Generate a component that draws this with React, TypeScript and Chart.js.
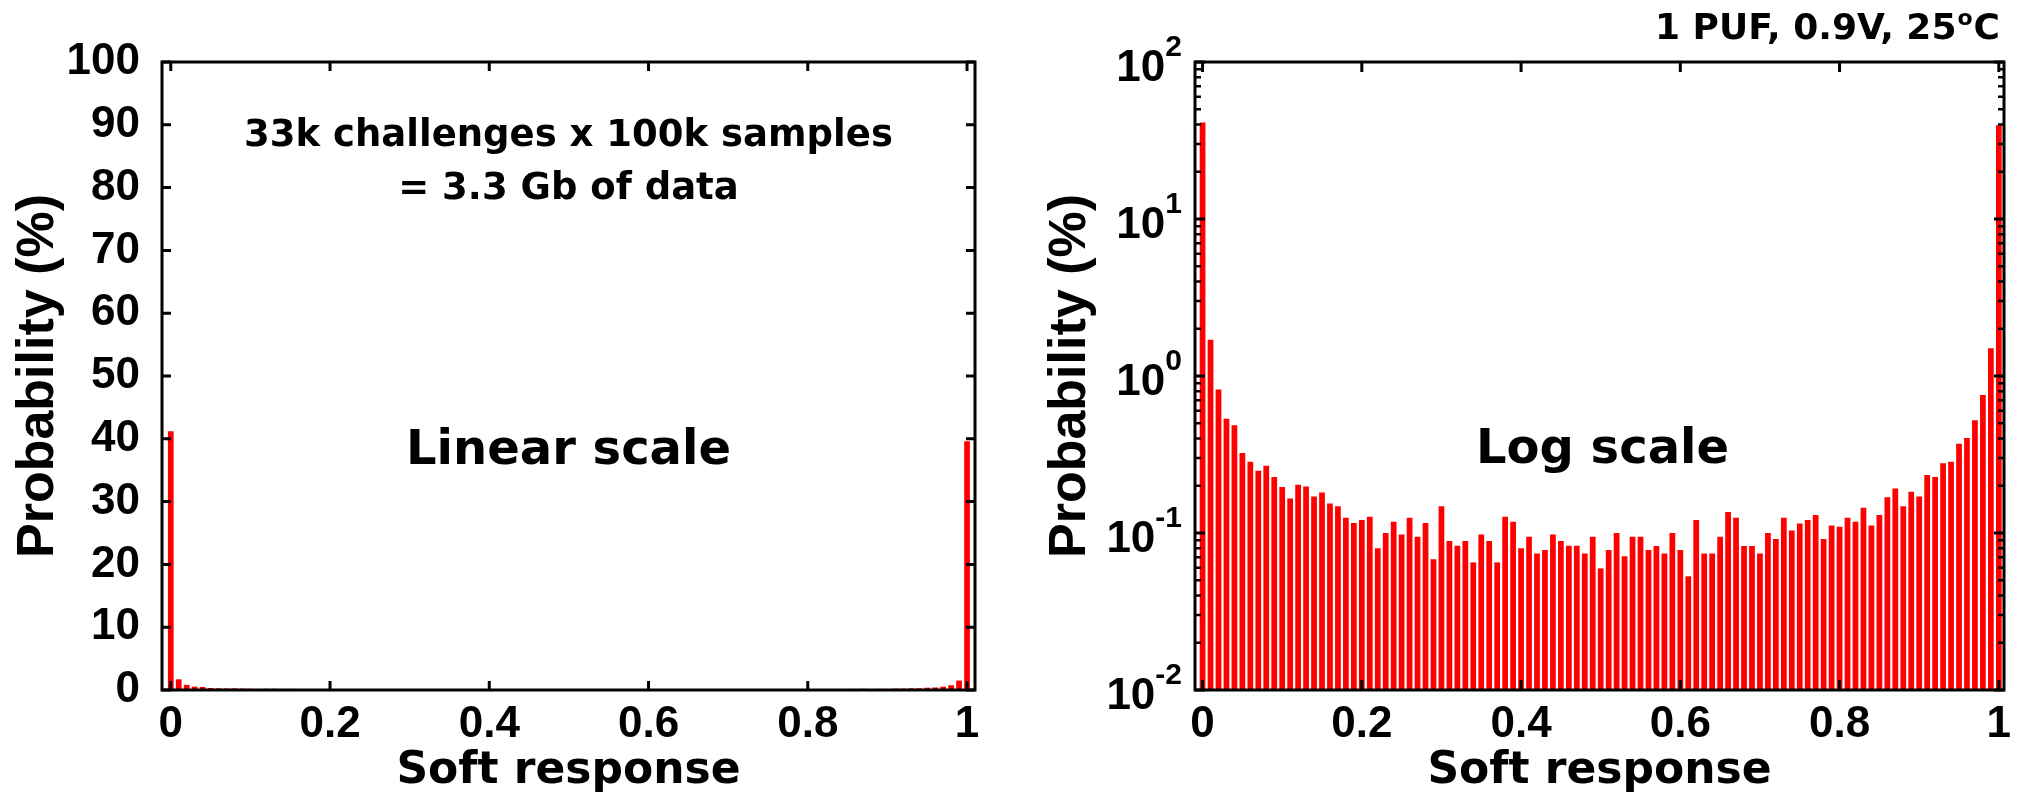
import React, { useEffect, useRef } from 'react';
import { Chart, registerables } from 'chart.js';

Chart.register(...registerables);

// ---------------- data ----------------
const binCenters = [
  0, 0.01, 0.02, 0.03, 0.04, 0.05, 0.06, 0.07, 0.08, 0.09,
  0.1, 0.11, 0.12, 0.13, 0.14, 0.15, 0.16, 0.17, 0.18, 0.19,
  0.2, 0.21, 0.22, 0.23, 0.24, 0.25, 0.26, 0.27, 0.28, 0.29,
  0.3, 0.31, 0.32, 0.33, 0.34, 0.35, 0.36, 0.37, 0.38, 0.39,
  0.4, 0.41, 0.42, 0.43, 0.44, 0.45, 0.46, 0.47, 0.48, 0.49,
  0.5, 0.51, 0.52, 0.53, 0.54, 0.55, 0.56, 0.57, 0.58, 0.59,
  0.6, 0.61, 0.62, 0.63, 0.64, 0.65, 0.66, 0.67, 0.68, 0.69,
  0.7, 0.71, 0.72, 0.73, 0.74, 0.75, 0.76, 0.77, 0.78, 0.79,
  0.8, 0.81, 0.82, 0.83, 0.84, 0.85, 0.86, 0.87, 0.88, 0.89,
  0.9, 0.91, 0.92, 0.93, 0.94, 0.95, 0.96, 0.97, 0.98, 0.99,
  1,
];

// probability in percent for each bin
const probability = [
  41.2, 1.7, 0.82, 0.535, 0.485, 0.323, 0.284, 0.249, 0.268, 0.227,
  0.196, 0.166, 0.203, 0.198, 0.171, 0.181, 0.154, 0.148, 0.125, 0.116,
  0.121, 0.127, 0.08, 0.1, 0.118, 0.098, 0.125, 0.0945, 0.116, 0.068,
  0.148, 0.089, 0.083, 0.089, 0.065, 0.098, 0.089, 0.065, 0.127, 0.118,
  0.08, 0.0945, 0.074, 0.078, 0.098, 0.089, 0.083, 0.083, 0.074, 0.0945,
  0.0595, 0.078, 0.1, 0.071, 0.0945, 0.0945, 0.078, 0.0825, 0.074, 0.1,
  0.078, 0.053, 0.121, 0.074, 0.074, 0.0945, 0.136, 0.125, 0.0825, 0.0825,
  0.074, 0.1, 0.0916, 0.125, 0.1036, 0.115, 0.121, 0.13, 0.0916, 0.1116,
  0.1096, 0.125, 0.118, 0.1446, 0.1116, 0.13, 0.169, 0.192, 0.148, 0.183,
  0.171, 0.234, 0.227, 0.278, 0.284, 0.37, 0.403, 0.522, 0.756, 1.5,
  39.6,
];

const xTickValues = [0, 0.2, 0.4, 0.6, 0.8, 1];
const xTickLabels = ['0', '0.2', '0.4', '0.6', '0.8', '1'];
const linTickValues = [0, 10, 20, 30, 40, 50, 60, 70, 80, 90, 100];
const linTickLabels = ['0', '10', '20', '30', '40', '50', '60', '70', '80', '90', '100'];
const logTickValues = [0.01, 0.1, 1, 10, 100];
const logTickBase = '10';
const logTickExponents = ['-2', '-1', '0', '1', '2'];
const logMinorMultipliers = [2, 3, 4, 5, 6, 7, 8, 9];

const xAxisTitle = 'Soft response';
const yAxisTitle = 'Probability (%)';
const noteLines = ['33k challenges x 100k samples', '= 3.3 Gb of data'];
const linearLabel = 'Linear scale';
const logLabel = 'Log scale';
const conditionParts = ['1 PUF, 0.9V, 25', 'o', 'C'];

// ---------------- styling ----------------
const ARIAL = "'Liberation Sans', Arial, Helvetica, sans-serif";
const WIDE = "'DejaVu Sans', Verdana, sans-serif";
const BAR_RED = '#ff0000';

type Kind = 'linear' | 'log';

function framePlugin(kind: Kind) {
  return {
    id: 'frame-' + kind,
    afterDraw(chart: any) {
      const { ctx, chartArea: a, scales } = chart;
      const xs = scales.x;
      const ys = scales.y;
      ctx.save();
      ctx.strokeStyle = '#000';
      ctx.fillStyle = '#000';
      ctx.lineCap = 'butt';

      // inward major ticks
      const major = kind === 'linear' ? 9 : 10;
      const minor = 6;
      ctx.lineWidth = 3;
      ctx.beginPath();
      xTickValues.forEach((v) => {
        const p = xs.getPixelForValue(v);
        ctx.moveTo(p, a.bottom);
        ctx.lineTo(p, a.bottom - major);
        ctx.moveTo(p, a.top);
        ctx.lineTo(p, a.top + major);
      });
      const yMajor = kind === 'linear' ? linTickValues : logTickValues;
      yMajor.forEach((v) => {
        const p = ys.getPixelForValue(v);
        ctx.moveTo(a.left, p);
        ctx.lineTo(a.left + major, p);
        ctx.moveTo(a.right, p);
        ctx.lineTo(a.right - major, p);
      });
      ctx.stroke();

      if (kind === 'log') {
        ctx.lineWidth = 2.5;
        ctx.beginPath();
        logTickValues.slice(0, -1).forEach((d) => {
          logMinorMultipliers.forEach((m) => {
            const p = ys.getPixelForValue(d * m);
            ctx.moveTo(a.left, p);
            ctx.lineTo(a.left + minor, p);
            ctx.moveTo(a.right, p);
            ctx.lineTo(a.right - minor, p);
          });
        });
        ctx.stroke();
      }

      // box
      ctx.lineWidth = 3;
      ctx.strokeRect(a.left, a.top, a.right - a.left, a.bottom - a.top);

      const cx = (a.left + a.right) / 2;
      ctx.textBaseline = 'alphabetic';
      if (kind === 'linear') {
        ctx.textAlign = 'center';
        ctx.font = `bold 37px ${WIDE}`;
        ctx.fillText(noteLines[0], cx, 146);
        ctx.fillText(noteLines[1], cx, 199);
        ctx.font = `bold 48px ${WIDE}`;
        ctx.fillText(linearLabel, cx, 464);
      } else {
        ctx.textAlign = 'center';
        ctx.font = `bold 48px ${WIDE}`;
        ctx.fillText(logLabel, cx + 3, 463);

        // y tick labels 10^n
        const rightEdge = a.left - 13;
        logTickValues.forEach((v, i) => {
          const p = ys.getPixelForValue(v);
          ctx.textAlign = 'right';
          ctx.font = `bold 30px ${ARIAL}`;
          const ew = ctx.measureText(logTickExponents[i]).width;
          ctx.fillText(logTickExponents[i], rightEdge, p - 6);
          ctx.font = `bold 44px ${ARIAL}`;
          ctx.fillText(logTickBase, rightEdge - ew, p + 19);
        });

        // condition title, top right
        ctx.textAlign = 'left';
        ctx.font = `bold 36px ${WIDE}`;
        const w1 = ctx.measureText(conditionParts[0]).width;
        const w3 = ctx.measureText(conditionParts[2]).width;
        ctx.font = `bold 22px ${WIDE}`;
        const w2 = ctx.measureText(conditionParts[1]).width;
        const right = a.right - 4;
        const x0 = right - (w1 + w2 + w3 + 2);
        const base = 39;
        ctx.font = `bold 36px ${WIDE}`;
        ctx.fillText(conditionParts[0], x0, base);
        ctx.font = `bold 22px ${WIDE}`;
        ctx.fillText(conditionParts[1], x0 + w1 + 1, base - 14);
        ctx.font = `bold 36px ${WIDE}`;
        ctx.fillText(conditionParts[2], x0 + w1 + w2 + 2, base);
      }
      ctx.restore();
    },
  };
}

function makeConfig(kind: Kind): any {
  const isLin = kind === 'linear';
  return {
    type: 'bar',
    data: {
      datasets: [
        {
          data: binCenters.map((x, i) => ({ x, y: probability[i] })),
          backgroundColor: BAR_RED,
          borderWidth: 0,
          barPercentage: 0.72,
          categoryPercentage: 1,
        },
      ],
    },
    options: {
      animation: false,
      responsive: false,
      maintainAspectRatio: false,
      layout: { padding: { left: 0, top: 62, right: isLin ? 38 : 22, bottom: 0 } },
      plugins: {
        legend: { display: false },
        tooltip: { enabled: false },
        title: { display: false },
      },
      scales: {
        x: {
          type: 'linear',
          min: isLin ? -0.011 : -0.0095,
          max: isLin ? 1.01 : 1.0065,
          offset: false,
          grid: { display: false, drawTicks: false },
          border: { display: false },
          afterBuildTicks: (s: any) => {
            s.ticks = xTickValues.map((value) => ({ value }));
          },
          ticks: {
            autoSkip: false,
            maxRotation: 0,
            minRotation: 0,
            padding: 8,
            color: '#000',
            font: { family: ARIAL, weight: 'bold', size: 44 },
            callback: (_v: any, i: number) => xTickLabels[i],
          },
          title: {
            display: true,
            text: xAxisTitle,
            color: '#000',
            font: { family: WIDE, weight: 'bold', size: 44 },
            padding: { top: 0, bottom: 6 },
          },
          afterFit: (s: any) => {
            s.height = 114;
          },
        },
        y: isLin
          ? {
              type: 'linear',
              min: 0,
              max: 100,
              grid: { display: false, drawTicks: false },
              border: { display: false },
              afterBuildTicks: (s: any) => {
                s.ticks = linTickValues.map((value) => ({ value }));
              },
              ticks: {
                autoSkip: false,
                padding: 22,
                color: '#000',
                font: { family: ARIAL, weight: 'bold', size: 44 },
                callback: (_v: any, i: number) => linTickLabels[i],
              },
              title: {
                display: true,
                text: yAxisTitle,
                color: '#000',
                font: { family: ARIAL, weight: 'bold', size: 52 },
                padding: { top: 7, bottom: 0 },
              },
              afterFit: (s: any) => {
                s.width = 162;
              },
            }
          : {
              type: 'logarithmic',
              min: 0.01,
              max: 100,
              grid: { display: false, drawTicks: false },
              border: { display: false },
              afterBuildTicks: (s: any) => {
                s.ticks = logTickValues.map((value) => ({ value }));
              },
              ticks: {
                autoSkip: false,
                padding: 13,
                color: '#000',
                font: { family: ARIAL, weight: 'bold', size: 44 },
                callback: () => '',
              },
              title: {
                display: true,
                text: yAxisTitle,
                color: '#000',
                font: { family: ARIAL, weight: 'bold', size: 52 },
                padding: { top: 26, bottom: 0 },
              },
              afterFit: (s: any) => {
                s.width = 182;
              },
            },
      },
    },
    plugins: [framePlugin(kind)],
  };
}

export default function App() {
  const leftRef = useRef<HTMLCanvasElement>(null);
  const rightRef = useRef<HTMLCanvasElement>(null);

  useEffect(() => {
    const charts: Chart[] = [];
    if (leftRef.current) charts.push(new Chart(leftRef.current, makeConfig('linear')));
    if (rightRef.current) charts.push(new Chart(rightRef.current, makeConfig('log')));
    return () => {
      charts.forEach((c) => c.destroy());
    };
  }, []);

  return (
    <div
      style={{
        position: 'absolute',
        left: 0,
        top: 0,
        width: 2026,
        height: 804,
        background: '#ffffff',
        overflow: 'hidden',
      }}
    >
      <canvas
        ref={leftRef}
        width={1013}
        height={804}
        style={{ position: 'absolute', left: 0, top: 0, width: 1013, height: 804 }}
      />
      <canvas
        ref={rightRef}
        width={1013}
        height={804}
        style={{ position: 'absolute', left: 1013, top: 0, width: 1013, height: 804 }}
      />
    </div>
  );
}
